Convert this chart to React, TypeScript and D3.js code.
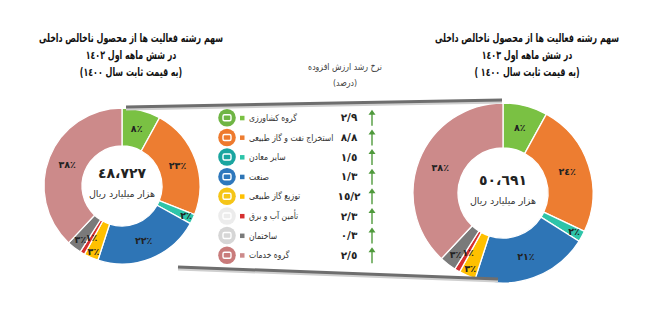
import React from 'react';
import * as d3 from 'd3';

const sectors = ['گروه کشاورزی', 'استخراج نفت و گاز طبیعی', 'سایر معادن', 'صنعت', 'توزیع گاز طبیعی', 'تأمین آب و برق', 'ساختمان', 'گروه خدمات'];
const share1402 = [8, 23, 2, 22, 3, 1, 3, 38];
const share1403 = [8, 24, 2, 21, 3, 1, 3, 38];
const growth = [2.9, 8.8, 1.5, 1.3, 15.2, 2.3, 0.3, 2.5];
const sliceColors = ['#7ac143', '#ed7d31', '#2ec4a9', '#2e75b6', '#ffc000', '#d62f2f', '#7a7a7a', '#cc8a8a'];
const iconColors = ['#6fb544', '#ee7a2e', '#1aa5a0', '#2e78bd', '#f5c518', '#ececec', '#d6d6d6', '#c97b7b'];
const titles1402 = ['سهم رشته فعالیت ها از محصول ناخالص داخلی', 'در شش ماهه اول ١٤٠٢', '(به قیمت ثابت سال ١٤٠٠)'];
const titles1403 = ['سهم رشته فعالیت ها از محصول ناخالص داخلی', 'در شش ماهه اول ١٤٠٣', '( به قیمت ثابت سال ١٤٠٠)'];
const totals = ['٤٨،٧٢٧', '٥٠،٦٩١'];
const unit = 'هزار میلیارد ریال';

// push tiny slices' labels outward a little, like the original
const labelPush = [1, 1, 1.2, 1, 1.22, 1.02, 1.15, 1];

const FONT = '"DejaVu Sans", sans-serif';
const ar = (s: string) => s.replace(/[0-9]/g, (d) => '٠١٢٣٤٥٦٧٨٩'[+d]);

function Donut({ cx, cy, outer, inner, data, total }: any) {
  const pie = d3.pie<number>().sort(null).value((d) => d);
  const arc = d3.arc<d3.PieArcDatum<number>>().innerRadius(inner).outerRadius(outer);
  const arcs = pie(data);
  const mid = (inner + outer) / 2;
  return (
    <g transform={`translate(${cx},${cy})`}>
      {arcs.map((a, i) => (
        <path key={i} d={arc(a) || ''} fill={sliceColors[i]} stroke="#fff" strokeWidth={1.3} />
      ))}
      {arcs.map((a, i) => {
        const ang = (a.startAngle + a.endAngle) / 2;
        const r = mid * labelPush[i];
        return (
          <text key={'l' + i} x={r * Math.sin(ang)} y={-r * Math.cos(ang)} dy="0.35em"
            textAnchor="middle" fontSize={9.5} fontWeight="bold" fill="#222" fontFamily={FONT}>
            {ar(String(a.data)) + '٪'}
          </text>
        );
      })}
      <text y={-13} dy="0.35em" textAnchor="middle" fontSize={14} fontWeight="bold" fill="#222" fontFamily={FONT}>{total}</text>
      <text y={8} dy="0.35em" textAnchor="middle" fontSize={9.5} fill="#333" fontFamily={FONT}>{unit}</text>
    </g>
  );
}

function Title({ x, lines }: any) {
  return (
    <g>
      {lines.map((t: string, i: number) => (
        <text key={i} transform={`translate(${x},${38 + i * 17}) scale(0.69,1)`} dy="0.35em" textAnchor="middle"
          fontSize={11.5} fontWeight="bold" fill="#111" fontFamily={FONT}>{t}</text>
      ))}
    </g>
  );
}

function ZoomLine({ x1, y1, x2, y2 }: any) {
  return (
    <g>
      <line x1={x1} y1={y1 + 2} x2={x2} y2={y2 + 2} stroke="#cfcfcf" strokeWidth={3} />
      <line x1={x1} y1={y1} x2={x2} y2={y2} stroke="#6e6e6e" strokeWidth={3} />
    </g>
  );
}

export default function App() {
  const W = 645, H = 322;
  const rowY = d3.scaleBand<number>().domain(d3.range(sectors.length)).range([108, 265]);
  const yc = (i: number) => (rowY(i) || 0) + rowY.bandwidth() / 2;

  return (
    <div style={{ position: 'absolute', left: 0, top: 0 }}>
      <svg width={W} height={H} style={{ display: 'block', background: '#fff' }}>
        <Title x={131} lines={titles1402} />
        <Title x={527} lines={titles1403} />

        <text transform="translate(345,67) scale(0.82,1)" dy="0.35em" textAnchor="middle" fontSize={9.5} fill="#444" fontFamily={FONT}>نرخ رشد ارزش افزوده</text>
        <text transform="translate(345,83) scale(0.82,1)" dy="0.35em" textAnchor="middle" fontSize={9.5} fill="#444" fontFamily={FONT}>(درصد)</text>

        <Donut cx={122} cy={186} outer={78} inner={40} data={share1402} total={totals[0]} />
        <Donut cx={503} cy={193} outer={90} inner={45} data={share1403} total={totals[1]} />

        <ZoomLine x1={126} y1={107} x2={502} y2={100} />
        <ZoomLine x1={178} y1={267} x2={498} y2={279} />

        {sectors.map((s, i) => {
          const y = yc(i);
          return (
            <g key={i}>
              <circle cx={227} cy={y} r={8.8} fill={iconColors[i]} />
              <rect x={223} y={y - 3} width={8} height={6} rx={1.5} fill="none" stroke="#fff" strokeWidth={1.4} />
              <rect x={240} y={y - 2} width={4.5} height={4.5} fill={sliceColors[i]} />
              <text transform={`translate(249,${y}) scale(0.85,1)`} dy="0.35em" fontSize={9} fill="#333" fontFamily={FONT}>{s}</text>
              <text x={349} y={y} dy="0.35em" textAnchor="middle" fontSize={10.5} fontWeight="bold" fill="#222" fontFamily={FONT}>
                {ar(String(growth[i]).replace('.', '/'))}
              </text>
              <line x1={372} y1={y + 8} x2={372} y2={y - 4} stroke="#4f9a3c" strokeWidth={1.4} />
              <path d={`M${368.5},${y - 3} L${372},${y - 8} L${375.5},${y - 3} Z`} fill="#4f9a3c" />
            </g>
          );
        })}
      </svg>
    </div>
  );
}
